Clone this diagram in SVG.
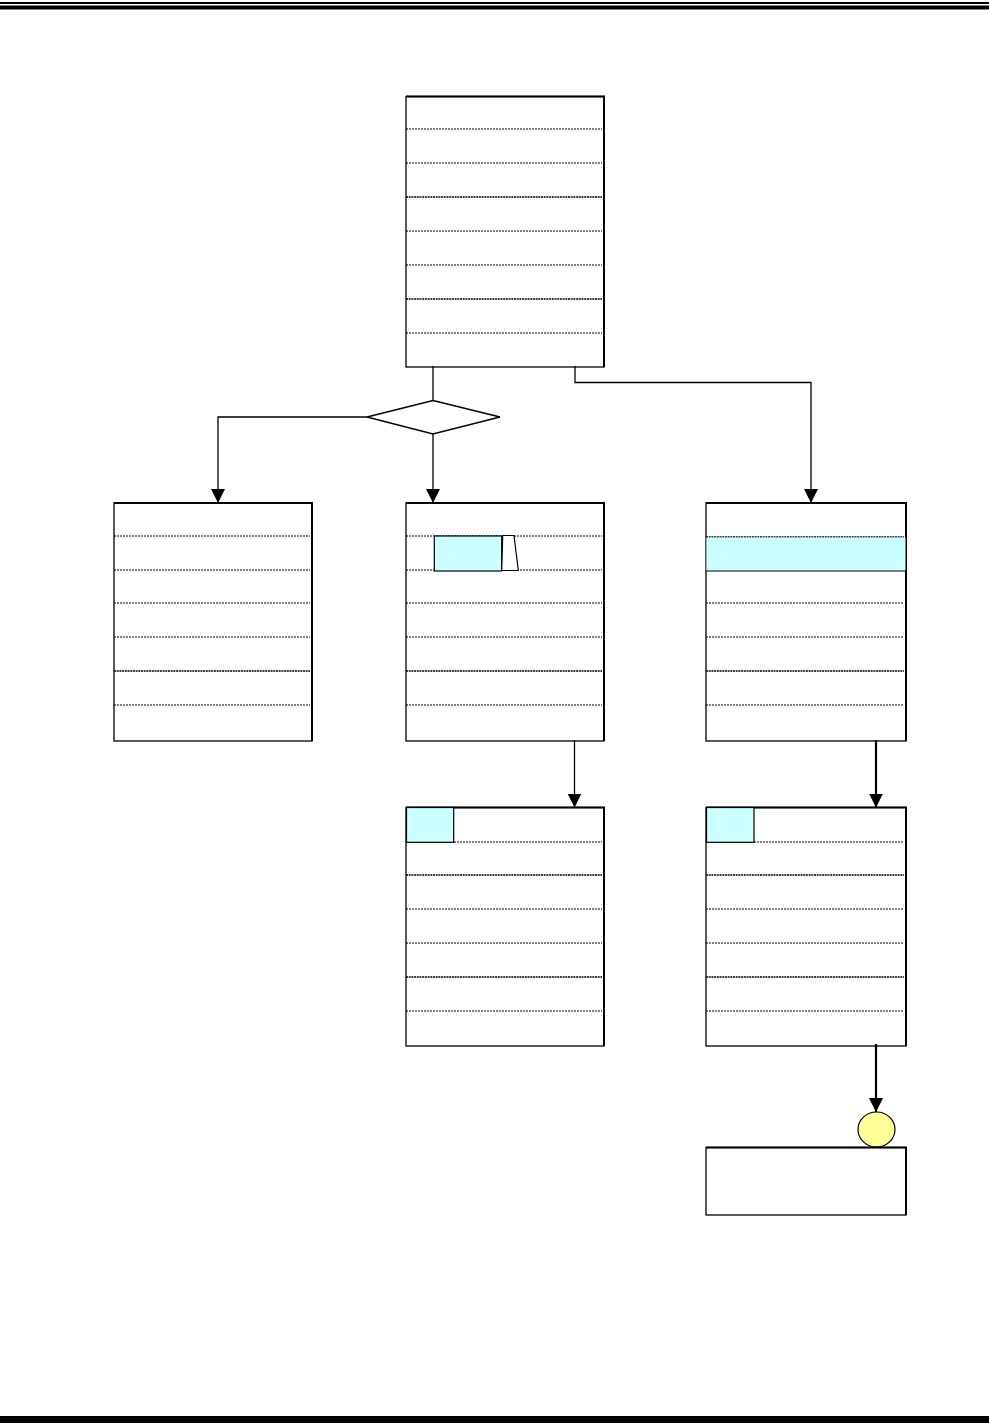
<svg xmlns="http://www.w3.org/2000/svg" width="989" height="1425" viewBox="0 0 989 1425">
<style>
.box{fill:#fff;stroke:#000;stroke-width:1.3}
.edge{fill:none;stroke:#000;stroke-width:2}
.dl{stroke:#000;stroke-width:1;stroke-dasharray:2,1;fill:none}
.dd{stroke:#000;stroke-width:1.4;stroke-dasharray:2,0.7;fill:none}
.cy{fill:#ccffff;stroke:#000;stroke-width:1.2}
.con{fill:none;stroke:#000;stroke-width:1.3}
.conb{fill:none;stroke:#000;stroke-width:2.2}
</style>
<defs>
<marker id="arr" markerWidth="14" markerHeight="14" refX="14" refY="7" orient="auto" markerUnits="userSpaceOnUse" viewBox="0 0 14 14">
<path d="M0,0 L14,7 L0,14 Z" fill="#000"/>
</marker>
</defs>
<rect width="989" height="1425" fill="#fff"/>
<g id="page-rules">
<rect x="0" y="2" width="989" height="2" fill="#000"/>
<rect x="0" y="5.5" width="989" height="4" fill="#000"/>
<rect x="0" y="1416" width="989" height="7" fill="#000"/>
</g>
<g id="node-top">
<rect class="box" x="406" y="96.5" width="198" height="270.5"/>
<path class="edge" d="M406,96.5H604V367"/>
<path class="dl" d="M406,129H602M406,163H602M406,231H602M406,265H602M406,333H602"/>
<path class="dd" d="M406,197H602M406,299H602"/>
</g>
<g id="node-decision">
<polygon points="433,400.5 500,417 433,434 367,417" fill="#fff" stroke="#000" stroke-width="1.3"/>
</g>
<g id="node-left">
<rect class="box" x="114" y="503" width="198" height="238"/>
<path class="edge" d="M114,503H312V741"/>
<path class="dl" d="M114,536H310M114,570H310M114,603H310M114,637H310M114,705H310"/>
<path class="dd" d="M114,671H310"/>
</g>
<g id="node-middle">
<rect class="box" x="406" y="503" width="198" height="238"/>
<path class="edge" d="M406,503H604V741"/>
<path class="dl" d="M406,536H602M406,570H602M406,603H602M406,637H602M406,705H602"/>
<path class="dd" d="M406,671H602"/>
<rect class="cy" x="434.3" y="536" width="67.4" height="35"/>
<polygon points="502.7,535.5 514,535.5 518.3,570.5 501.7,570.5" fill="#fff" stroke="#000" stroke-width="1.2"/>
</g>
<g id="node-right">
<rect class="box" x="706" y="503" width="200" height="238"/>
<path class="edge" d="M706,503H906V741"/>
<path class="dd" d="M706,537H904"/>
<rect x="706.5" y="537.5" width="199" height="33.5" fill="#ccffff" stroke="none"/>
<path d="M706,571H906" stroke="#000" stroke-width="1.2"/>
<path class="dl" d="M706,603H904M706,637H904M706,705H904"/>
<path class="dd" d="M706,671H904"/>
</g>
<g id="node-middle-lower">
<rect class="box" x="406" y="807.5" width="198" height="238.5"/>
<path class="edge" d="M406,807.5H604V1046"/>
<path class="dl" d="M454,842H602M406,909H602M406,943H602M406,1011H602"/>
<path class="dd" d="M406,875H602M406,977H602"/>
<rect class="cy" x="406.5" y="807.5" width="47.2" height="34.8"/>
</g>
<g id="node-right-lower">
<rect class="box" x="706" y="807.5" width="200" height="238.5"/>
<path class="edge" d="M706,807.5H906V1046"/>
<path class="dl" d="M754,842H904M706,909H904M706,943H904M706,1011H904"/>
<path class="dd" d="M706,875H904M706,977H904"/>
<rect class="cy" x="706.5" y="807.5" width="47.5" height="34.8"/>
</g>
<g id="node-connector-circle">
<ellipse cx="876.5" cy="1129.5" rx="18.5" ry="17.5" fill="#ffff99" stroke="#000" stroke-width="1.2"/>
</g>
<g id="node-bottom">
<rect class="box" x="706" y="1147.5" width="200" height="67.5"/>
<path class="edge" d="M706,1147.5H906V1215"/>
</g>
<g id="connectors">
<path class="con" d="M433,366V400.5"/>
<path class="con" d="M367,417H218V503" marker-end="url(#arr)"/>
<path class="con" d="M433,434V503" marker-end="url(#arr)"/>
<path class="con" d="M575,366V382.5H811V503" marker-end="url(#arr)" stroke-width="1.5"/>
<path class="con" d="M574.5,740V807.5" marker-end="url(#arr)"/>
<path class="conb" d="M876,740V807.5" marker-end="url(#arr)"/>
<path class="conb" d="M876,1044V1112" marker-end="url(#arr)"/>
</g>
</svg>
